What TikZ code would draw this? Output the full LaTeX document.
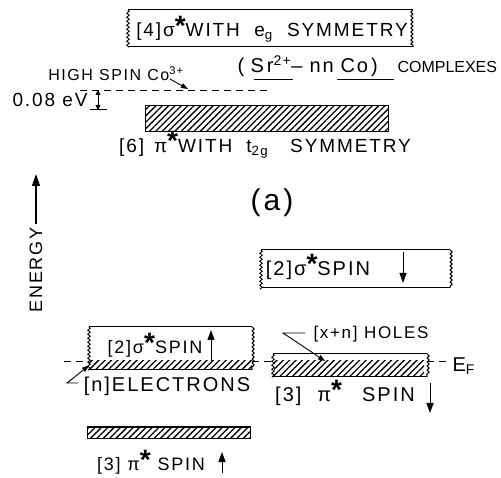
\documentclass[tikz,border=0pt]{standalone}
\usepackage{fontspec}
\setmainfont{Liberation Sans}[LetterSpace=10]
\usetikzlibrary{decorations.pathmorphing,patterns.meta,arrows.meta}
\newcommand\st{\raisebox{0.08em}{\fontsize{28}{28}\selectfont\bfseries *}}
\newcommand\wbox[1]{%
  \draw (#1.north west)--(#1.north east) (#1.south west)--(#1.south east);
  \draw[wavy] (#1.north west)--(#1.south west) (#1.north east)--(#1.south east);}
\tikzset{
  wavy/.style={decorate,decoration={snake,amplitude=1.1pt,segment length=4pt}},
  band/.style={rectangle,inner sep=0pt,outer sep=0pt},
  hatch/.style={band,pattern={Lines[angle=45,distance=4.5pt,line width=1.3pt]}},
  lab/.style={inner sep=0pt,font=\fontsize{19}{19}\selectfont},
  blab/.style={inner sep=0pt,font=\fontsize{20}{20}\selectfont},
  mlab/.style={inner sep=0pt,font=\fontsize{18}{18}\selectfont},
  slab/.style={inner sep=0pt,font=\fontsize{16}{16}\selectfont},
  piece/.style={inner sep=0pt,anchor=base west,font=\fontsize{20}{20}\selectfont},
  spin/.style={line width=1pt,-{Triangle[length=10pt,width=7pt]}},
  ptr/.style={line width=0.9pt,-{Triangle[length=7pt,width=5pt]}},
  fermi/.style={line width=0.9pt,dash pattern=on 7pt off 5pt},
}
\begin{document}
\begin{tikzpicture}[x=1pt,y=-1pt,line width=1pt]
\useasboundingbox (0,0) rectangle (501,478);
% top box
\node[band,minimum width=285pt,minimum height=37pt] (egbox) at (270.5,28.5) {};
\wbox{egbox}
\node[lab] (eg) at (272,29) {[4]σ\st WITH \ e\textsubscript{g} \ SYMMETRY};
% complexes
\node[piece] (c1) at (237,73) {(};
\node[piece] (c2) at (250,73) {S\hspace{3pt}r\textsuperscript{2+}–};
\node[piece] (c3) at (309,73) {n\hspace{2pt}n};
\node[piece] (c4) at (340,73) {C\hspace{2pt}o\hspace{3pt})};
\node[piece,font=\fontsize{16}{16}\selectfont\addfontfeatures{LetterSpace=0}] (c5) at (397,73) {COMPLEXES};
\coordinate (u1) at (254,79);
\coordinate (u2) at (293,79);
\coordinate (u3) at (337,79);
\coordinate (u4) at (394,79);
\draw[line width=0.9pt] (u1) -- (u2);
\draw[line width=0.9pt] (u3) -- (u4);
\node[slab] (hs) at (116,74) {HIGH SPIN Co\textsuperscript{3+}};
\coordinate (hsl) at (80,90);
\coordinate (hsr) at (267,90);
\coordinate (hsb) at (170,79);
\coordinate (hsa) at (188,89);
\draw[fermi] (hsl) -- (hsr);
\draw[ptr] (hsb) -- (hsa);
\node[lab] (ev) at (50,100) {0.08 eV};
\coordinate (evt) at (98,90);
\coordinate (evb) at (98,110);
\draw[line width=0.9pt,{Triangle[length=5pt,width=5pt]}-{Triangle[length=5pt,width=5pt]}] (evt) -- (evb);
\coordinate (evbl) at (90,110);
\coordinate (evbr) at (107,110);
\draw (evbl) -- (evbr);
% t2g band
\node[band,draw,hatch,minimum width=243pt,minimum height=26pt] (t2gband) at (266.5,119) {};
\node[lab] (t2g) at (265,145) {[6]\hspace{10pt}π\st WITH\hspace{14pt}t\textsubscript{2g}\hspace{22pt}SYMMETRY};
% (a)
\node[inner sep=0pt,font=\fontsize{30}{30}\selectfont] (alab) at (272,203) {(a)};
% energy
\node[mlab,rotate=90] (energy) at (36,270) {ENERGY};
\coordinate (entop) at (36,174);
\draw[line width=1.2pt,-{Triangle[length=12pt,width=8pt]}] (energy.east) ++(0,-3) -- (entop);
% right sigma spin down
\node[band,minimum width=189pt,minimum height=38pt] (sdbox) at (355.5,269) {};
\wbox{sdbox}
\node[blab] (sd) at (318,267) {[2]σ\st SPIN};
\coordinate (sdt) at (403,252);
\coordinate (sdb) at (403,283);
\draw[spin] (sdt) -- (sdb);
% left sigma spin up
\node[band,minimum width=163pt,minimum height=43pt] (subox) at (170.5,348.5) {};
\wbox{subox}
\node[hatch,minimum width=163pt,minimum height=9pt] (sufill) at (170.5,365.5) {};
\node[mlab] (su) at (155,345) {[2]σ\st SPIN};
\coordinate (sut) at (211,330);
\coordinate (sub) at (211,361);
\draw[spin] (sub) -- (sut);
\node[blab] (el) at (167,386) {[n]ELECTRONS};
\coordinate (ela) at (78,383);
\coordinate (elb) at (67,383);
\draw[ptr] (ela) -- (elb) -- (sufill.west);
% right pi spin down band
\node[band,minimum width=154pt,minimum height=23pt] (pdbox) at (350,365.5) {};
\wbox{pdbox}
\node[hatch,minimum width=150pt,minimum height=16pt] (pdfill) at (349,369) {};
\node[inner sep=0pt,font=\fontsize{17}{17}\selectfont] (holes) at (371,334) {[x+n] HOLES};
\coordinate (ha) at (305,333);
\coordinate (hb) at (283,333);
\coordinate (hc) at (325,361);
\draw[ptr] (ha) -- (hb) -- (hc);
% fermi level
\coordinate (f1) at (64,361);
\coordinate (f4) at (450,361);
\draw[fermi] (f1) -- (subox.west |- f1);
\draw[fermi] (subox.east |- f1) -- (pdbox.west |- f1);
\draw[fermi] (pdbox.east |- f1) -- (f4);
\node[blab,anchor=west] (ef) at (452,366) {E\textsubscript{F}};
\node[blab] (pd) at (345,393) {[3]\hspace{16pt}π\st\hspace{20pt}SPIN};
\coordinate (pdt) at (430,383);
\coordinate (pdb) at (430,413);
\draw[spin] (pdt) -- (pdb);
% bottom pi spin up band
\node[band,draw,hatch,minimum width=163pt,minimum height=11pt] (pubox) at (168.5,432.5) {};
\node[mlab] (pu) at (151,462) {[3] π\st\ SPIN};
\coordinate (put) at (222,452);
\coordinate (pub) at (222,473);
\draw[spin] (pub) -- (put);
\end{tikzpicture}
\end{document}
